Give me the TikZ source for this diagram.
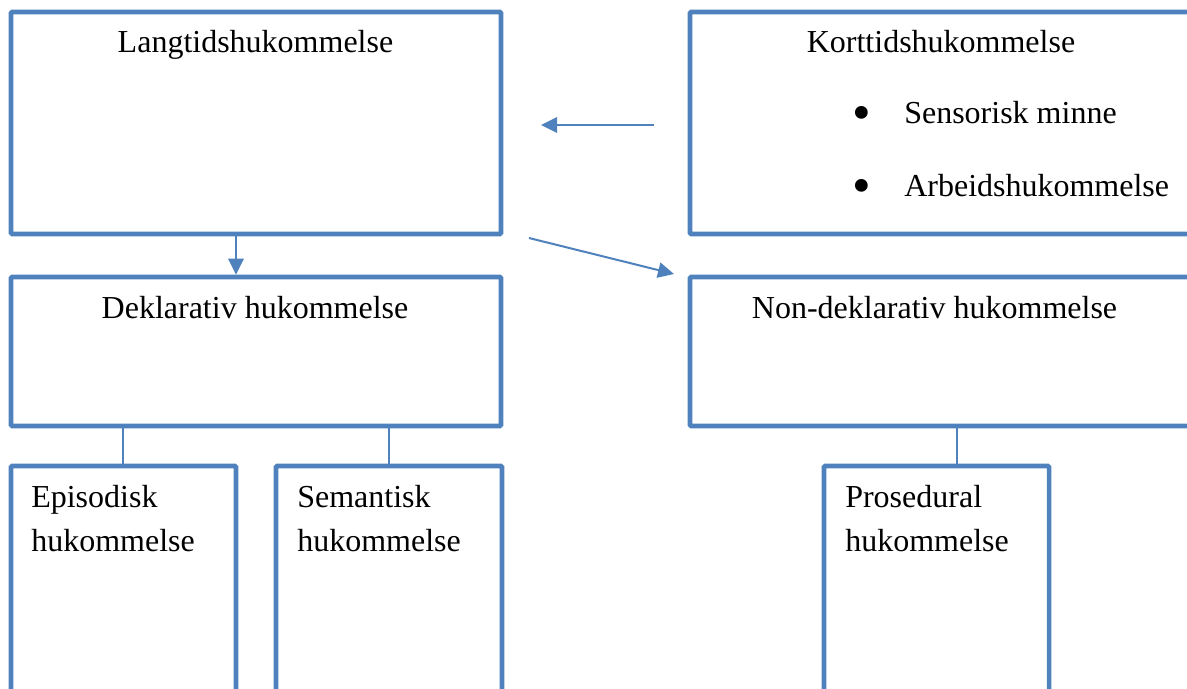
\documentclass[tikz,border=0pt]{standalone}
\usepackage{fontspec}
\setmainfont{Liberation Serif}
\usetikzlibrary{fit,arrows.meta}
\definecolor{obl}{HTML}{4F81BD}
\tikzset{
  box/.style={draw=obl, line width=3.4pt, inner sep=0pt, rounded corners=0.8pt},
  conn/.style={draw=obl, line width=1.5pt},
  arr/.style={conn, -{Triangle[length=12pt,width=11.5pt]}},
  txt/.style={inner sep=0pt, font=\fontsize{24}{28}\selectfont, text=black},
  bul/.style={inner sep=0pt, font=\fontsize{40}{44}\selectfont, text=black},
}
\begin{document}
\begin{tikzpicture}[x=0.75pt,y=-0.75pt]
\useasboundingbox (0,0) rectangle (1187,688);
\clip (0,0) rectangle (1187,688);
% boxes
\node[box, fit={(11,12) (501,234)}] (lt) {};
\node[box, fit={(690,12) (1260,234)}] (kt) {};
\node[box, fit={(11,277) (501,426)}] (dek) {};
\node[box, fit={(690,277) (1260,426)}] (ndek) {};
\node[box, fit={(11,466) (236,760)}] (epi) {};
\node[box, fit={(276,466) (502,760)}] (sem) {};
\node[box, fit={(824,466) (1049,760)}] (pro) {};
% texts
\node[txt, anchor=base] (tlt) at (255.5,53) {Langtidshukommelse};
\node[txt, anchor=base] (tkt) at (941,53) {Korttidshukommelse};
\node[bul, anchor=base] (b1) at (862,131) {•};
\node[bul, anchor=base] (b2) at (862,203) {•};
\node[txt, anchor=base west] (tsen) at (904,124) {Sensorisk minne};
\node[txt, anchor=base west] (tarb) at (904,196) {Arbeidshukommelse};
\node[txt, anchor=base] (tdek) at (255,318) {Deklarativ hukommelse};
\node[txt, anchor=base] (tndek) at (934.5,318) {Non-deklarativ hukommelse};
\node[txt, anchor=base west] (tepi1) at (31,507) {Episodisk};
\node[txt, anchor=base west] (tepi2) at (31,551) {hukommelse};
\node[txt, anchor=base west] (tsem1) at (297,507) {Semantisk};
\node[txt, anchor=base west] (tsem2) at (297,551) {hukommelse};
\node[txt, anchor=base west] (tpro1) at (845,507) {Prosedural};
\node[txt, anchor=base west] (tpro2) at (845,551) {hukommelse};
% connectors
\coordinate (la) at (654,125);
\coordinate (lb) at (541,125);
\draw[arr] (la) -- (lb);
\coordinate (da) at (529,238);
\coordinate (db) at (674,274);
\draw[arr] (da) -- (db);
\draw[arr] (lt.south -| 236,0) -- (dek.north -| 236,0);
\draw[conn] (dek.south -| 123,0) -- (epi.north -| 123,0);
\draw[conn] (dek.south -| 389,0) -- (sem.north -| 389,0);
\draw[conn] (ndek.south -| 957,0) -- (pro.north -| 957,0);
\end{tikzpicture}
\end{document}
